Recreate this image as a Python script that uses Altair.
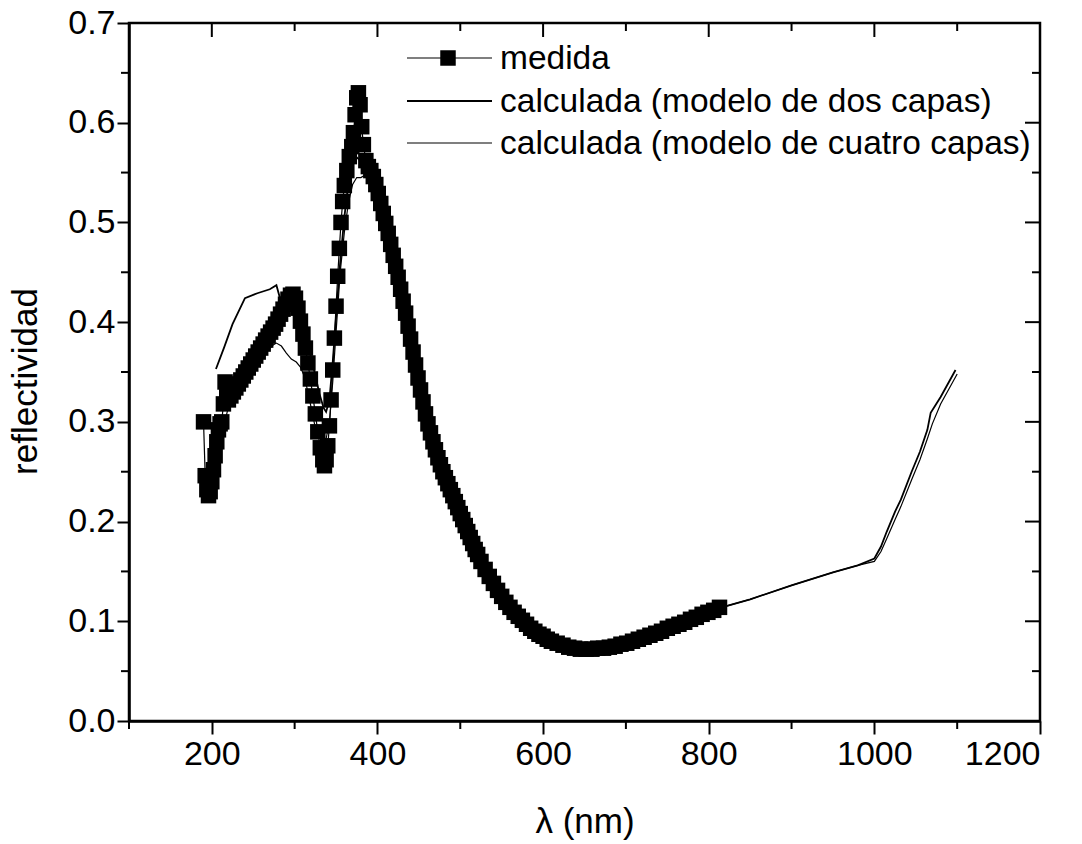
import altair as alt
import pandas as pd

# ---------------- data ----------------
medida_x = [190, 192, 194, 196, 198, 200, 202, 204, 206, 208, 210, 212, 214, 216, 218, 220,
            223, 226, 229, 232, 235, 238, 241, 244, 247, 250, 253, 256, 259, 262, 265, 268,
            271, 274, 277, 280, 283, 286, 289, 292, 295, 298, 301, 304, 307, 310, 313, 316,
            319, 322, 325, 328, 331, 334, 336, 338, 340, 342, 344, 346, 348, 350, 352, 354,
            356, 358, 360, 363, 366, 369, 371, 373, 375, 377, 379, 381, 383, 386, 389, 392,
            395, 398, 401, 404, 407, 410, 413, 416, 419, 422, 425, 428, 431, 434, 437, 440,
            443, 446, 449, 452, 455, 458, 461, 464, 467, 470, 473, 476, 479, 482, 485, 488,
            491, 494, 497, 500, 503, 506, 509, 512, 515, 518, 521, 525, 530, 535, 540, 545,
            550, 555, 560, 565, 570, 575, 580, 585, 590, 595, 600, 605, 610, 617, 624, 631,
            638, 645, 652, 659, 666, 673, 680, 687, 694, 701, 708, 715, 722, 729, 736, 743,
            750, 757, 764, 771, 778, 785, 792, 799, 806, 813]
medida_y = [0.300, 0.246, 0.232, 0.226, 0.230, 0.240, 0.252, 0.266, 0.280, 0.292, 0.298, 0.300, 0.318, 0.340, 0.330, 0.322,
            0.326, 0.330, 0.334, 0.338, 0.342, 0.346, 0.350, 0.354, 0.358, 0.362, 0.366, 0.370, 0.374, 0.378, 0.382, 0.386,
            0.390, 0.394, 0.398, 0.403, 0.408, 0.413, 0.418, 0.423, 0.427, 0.428, 0.424, 0.414, 0.401, 0.388, 0.374, 0.359,
            0.343, 0.326, 0.308, 0.290, 0.274, 0.262, 0.256, 0.262, 0.276, 0.296, 0.322, 0.352, 0.384, 0.416, 0.446, 0.474,
            0.500, 0.521, 0.537, 0.552, 0.566, 0.576, 0.590, 0.608, 0.625, 0.630, 0.618, 0.596, 0.578, 0.562, 0.556, 0.552,
            0.546, 0.538, 0.529, 0.519, 0.509, 0.499, 0.489, 0.478, 0.467, 0.456, 0.445, 0.433, 0.421, 0.409, 0.396, 0.383,
            0.370, 0.357, 0.344, 0.332, 0.320, 0.308, 0.298, 0.289, 0.280, 0.272, 0.264, 0.257, 0.250, 0.244, 0.238, 0.232,
            0.226, 0.220, 0.214, 0.208, 0.202, 0.196, 0.190, 0.184, 0.178, 0.172, 0.167, 0.160, 0.152, 0.145, 0.138, 0.131,
            0.125, 0.119, 0.114, 0.109, 0.105, 0.101, 0.097, 0.093, 0.090, 0.087, 0.085, 0.082, 0.080, 0.078, 0.076, 0.074,
            0.073, 0.072, 0.072, 0.072, 0.073, 0.073, 0.074, 0.075, 0.077, 0.078, 0.080, 0.082, 0.084, 0.086, 0.088, 0.090,
            0.093, 0.095, 0.097, 0.099, 0.102, 0.104, 0.107, 0.109, 0.111, 0.114]

dos_x = [205, 215, 225, 240, 255, 270, 278, 282, 288, 295, 300, 308, 316, 324, 330, 335, 338, 342,
         346, 350, 355, 360, 365, 370, 374, 378, 384, 392, 400, 420, 440, 460, 480, 500, 520, 540,
         560, 580, 600, 620, 640, 660, 680, 700, 720, 740, 760, 780, 800, 820, 850, 900, 950, 980,
         1000, 1008, 1015, 1025, 1032, 1045, 1055, 1064, 1068, 1080, 1090, 1098]
dos_y = [0.353, 0.375, 0.398, 0.424, 0.429, 0.433, 0.437, 0.425, 0.420, 0.425, 0.424, 0.405, 0.378, 0.350, 0.328, 0.314, 0.310, 0.322,
         0.360, 0.405, 0.460, 0.505, 0.540, 0.560, 0.566, 0.563, 0.556, 0.553, 0.535, 0.465, 0.383, 0.301, 0.250, 0.208, 0.170, 0.138,
         0.114, 0.097, 0.085, 0.077, 0.073, 0.072, 0.074, 0.078, 0.084, 0.090, 0.096, 0.102, 0.109, 0.115, 0.122, 0.136, 0.149, 0.156,
         0.163, 0.175, 0.190, 0.210, 0.222, 0.250, 0.270, 0.292, 0.309, 0.325, 0.340, 0.352]

cuatro_x = [200, 210, 220, 230, 240, 250, 260, 268, 274, 278, 284, 290, 296, 302, 307, 312, 318, 324,
            330, 334, 338, 342, 346, 350, 355, 360, 365, 370, 375, 380, 386, 392, 400, 420, 440, 460,
            480, 500, 520, 540, 560, 580, 600, 620, 640, 660, 680, 700, 720, 740, 760, 780, 800, 820,
            850, 900, 950, 980, 1000, 1008, 1015, 1025, 1032, 1045, 1055, 1064, 1070, 1080, 1090, 1100]
cuatro_y = [0.250, 0.280, 0.315, 0.335, 0.348, 0.358, 0.366, 0.372, 0.377, 0.379, 0.376, 0.369, 0.363, 0.360, 0.355, 0.345, 0.322, 0.298,
            0.285, 0.280, 0.283, 0.300, 0.340, 0.390, 0.450, 0.490, 0.520, 0.538, 0.545, 0.545, 0.548, 0.551, 0.535, 0.465, 0.383, 0.301,
            0.250, 0.208, 0.170, 0.138, 0.114, 0.097, 0.085, 0.077, 0.073, 0.072, 0.074, 0.078, 0.084, 0.090, 0.096, 0.102, 0.109, 0.115,
            0.122, 0.136, 0.149, 0.156, 0.160, 0.170, 0.183, 0.202, 0.215, 0.242, 0.262, 0.283, 0.298, 0.318, 0.333, 0.348]

x_major = [200, 400, 600, 800, 1000, 1200]
x_minor = [100, 300, 500, 700, 900, 1100]
y_major = [0.0, 0.1, 0.2, 0.3, 0.4, 0.5, 0.6, 0.7]
y_minor = [0.05, 0.15, 0.25, 0.35, 0.45, 0.55, 0.65]

legend_labels = ["medida", "calculada (modelo de dos capas)", "calculada (modelo de cuatro capas)"]

# ---------------- chart ----------------
FONT = "Liberation Sans"
W, H = 911, 698
XMIN, XMAX, YMIN, YMAX = 100, 1200, 0.0, 0.7
px_x = (XMAX - XMIN) / W     # data units per pixel
px_y = (YMAX - YMIN) / H

xs = alt.Scale(domain=[XMIN, XMAX], nice=False, zero=False)
ys = alt.Scale(domain=[YMIN, YMAX], nice=False, zero=False)

x_axis = alt.Axis(values=x_major, format="d", title="λ (nm)", grid=False,
                  tickSize=13, labelPadding=3, titleY=111, titleBaseline="alphabetic")
y_axis = alt.Axis(values=y_major, format=".1f", title="reflectividad", grid=False,
                  tickSize=12, labelPadding=2, titleX=-86, titleY=358, titleBaseline="bottom")

X = alt.X("x:Q", scale=xs, axis=x_axis)
Y = alt.Y("y:Q", scale=ys, axis=y_axis)

df_med = pd.DataFrame({"x": medida_x, "y": medida_y})
df_dos = pd.DataFrame({"x": dos_x, "y": dos_y})
df_cua = pd.DataFrame({"x": cuatro_x, "y": cuatro_y})

line_med = alt.Chart(df_med).mark_line(color="black", strokeWidth=1.2).encode(x=X, y=Y)
pts_med = alt.Chart(df_med).mark_square(color="black", size=240, opacity=1).encode(x=X, y=Y)
line_dos = alt.Chart(df_dos).mark_line(color="black", strokeWidth=1.8).encode(x=X, y=Y)
line_cua = alt.Chart(df_cua).mark_line(color="black", strokeWidth=1.2).encode(x=X, y=Y)

# minor ticks and mirrored (inward) ticks on top / right
tick_rows = []
for v in x_minor:
    tick_rows.append({"x": v, "x2": v, "y": YMIN, "y2": YMIN - 8 * px_y})
for v in x_major:
    tick_rows.append({"x": v, "x2": v, "y": YMAX, "y2": YMAX - 14 * px_y})
for v in x_minor:
    tick_rows.append({"x": v, "x2": v, "y": YMAX, "y2": YMAX - 8 * px_y})
for v in y_minor:
    tick_rows.append({"x": XMIN, "x2": XMIN - 8 * px_x, "y": v, "y2": v})
for v in y_major:
    tick_rows.append({"x": XMAX, "x2": XMAX - 15 * px_x, "y": v, "y2": v})
for v in y_minor:
    tick_rows.append({"x": XMAX, "x2": XMAX - 8 * px_x, "y": v, "y2": v})
df_ticks = pd.DataFrame(tick_rows)
ticks = alt.Chart(df_ticks).mark_rule(color="black", strokeWidth=2).encode(
    x=X, x2="x2:Q", y=Y, y2="y2:Q")

# legend (inside the plot, top)
LEG_Y = [35, 78, 120]
LEG_W = [1.2, 1.8, 1.2]
legend_layers = []
for lbl, yy, sw in zip(legend_labels, LEG_Y, LEG_W):
    legend_layers.append(
        alt.Chart(pd.DataFrame({"label": [lbl]})).mark_rule(color="black", strokeWidth=sw).encode(
            x=alt.value(278), x2=alt.value(363), y=alt.value(yy)))
    legend_layers.append(
        alt.Chart(pd.DataFrame({"label": [lbl]})).mark_text(
            align="left", baseline="middle", font=FONT, fontSize=33.5, color="black").encode(
            x=alt.value(371), y=alt.value(yy + 1), text="label:N"))
legend_layers.append(
    alt.Chart(pd.DataFrame({"label": [legend_labels[0]]})).mark_square(
        color="black", size=240, opacity=1).encode(x=alt.value(319), y=alt.value(LEG_Y[0])))

chart = alt.layer(line_cua, line_dos, line_med, pts_med, ticks, *legend_layers).properties(
    width=W, height=H,
    autosize=alt.AutoSizeParams(type="none"),
    padding={"left": 129, "top": 23, "right": 42, "bottom": 123},
    background="white",
).configure_view(
    stroke="black", strokeWidth=2.5
).configure_axis(
    domainColor="black", domainWidth=2.5, tickColor="black", tickWidth=2,
    labelColor="black", titleColor="black", labelFont=FONT, titleFont=FONT,
    labelFontSize=34, titleFontSize=35, titleFontWeight="normal",
)

chart.save("out.html", embed_options={"renderer": "svg", "actions": False})
